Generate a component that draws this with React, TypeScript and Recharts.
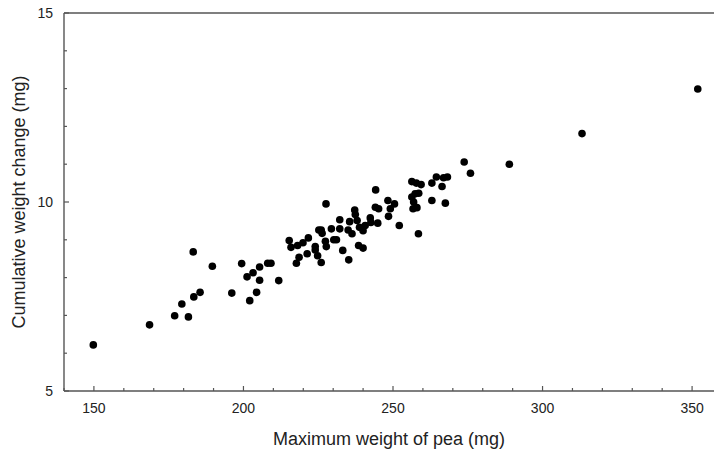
import React from 'react';
import { ScatterChart, Scatter, XAxis, YAxis, Label } from 'recharts';

// Maximum weight of pea (mg)
const peaWeight = [
  149.8, 168.6, 177.0, 179.4, 181.6, 183.4, 185.5, 183.2, 189.6, 196.1,
  199.4, 201.2, 202.1, 203.2, 204.4, 205.4, 205.4, 208.1, 209.2, 211.8,
  215.3, 215.9, 218.1, 219.9, 221.7, 218.6, 217.7, 221.3, 224.0, 224.0,
  224.8, 226.0, 225.2, 226.0, 226.3, 227.4, 227.7, 227.6, 229.4, 230.2,
  231.1, 232.2, 232.2, 233.2, 235.2, 235.0, 235.5, 236.3, 237.2, 237.4,
  238.0, 238.8, 238.5, 240.0, 240.0, 240.7, 242.4, 242.6, 244.9, 244.2,
  244.1, 245.2, 248.3, 249.1, 250.5, 248.5, 252.1, 256.3, 257.8, 259.4,
  256.3, 257.4, 258.6, 256.9, 256.7, 258.0, 258.5, 263.0, 263.0, 264.5,
  266.4, 266.9, 268.2, 267.5, 273.8, 275.9, 288.9, 313.2, 351.9,
];

// Cumulative weight change (mg)
const weightChange = [
  6.22, 6.75, 6.99, 7.30, 6.96, 7.49, 7.61, 8.68, 8.30, 7.59,
  8.37, 8.02, 7.39, 8.13, 7.61, 8.28, 7.93, 8.38, 8.38, 7.92,
  8.98, 8.80, 8.85, 8.92, 9.05, 8.54, 8.38, 8.63, 8.82, 8.73,
  8.58, 8.40, 9.26, 9.26, 9.17, 8.96, 8.82, 9.95, 9.29, 9.00,
  9.00, 9.53, 9.29, 8.72, 8.47, 9.26, 9.48, 9.16, 9.79, 9.67,
  9.51, 9.33, 8.85, 8.78, 9.24, 9.38, 9.58, 9.46, 9.44, 10.32,
  9.86, 9.82, 10.04, 9.82, 9.95, 9.62, 9.38, 10.54, 10.50, 10.46,
  10.13, 10.22, 10.23, 10.00, 9.82, 9.85, 9.16, 10.04, 10.50, 10.66,
  10.41, 10.64, 10.66, 9.97, 11.06, 10.76, 11.00, 11.81, 12.99,
];

const xTicks = [140, 150, 160, 170, 180, 190, 200, 210, 220, 230, 240, 250, 260, 270, 280, 290, 300, 310, 320, 330, 340, 350, 360];
const xLabelTicks = [150, 200, 250, 300, 350];
const yTicks = [5, 6, 7, 8, 9, 10, 11, 12, 13, 14, 15];
const yLabelTicks = [5, 10, 15];

const data = peaWeight.map((x, i) => ({ x, y: weightChange[i] }));

const FONT = '"Liberation Sans", Arial, Helvetica, sans-serif';
const AXIS = '#555';

const BottomTick = (props: any) => {
  const { x, y, payload } = props;
  const major = xLabelTicks.includes(payload.value);
  return (
    <g>
      <line x1={x} x2={x} y1={y} y2={y - (major ? 5 : 3)} stroke={AXIS} strokeWidth={1.2} />
      {major && (
        <text x={x} y={y + 22} textAnchor="middle" fontSize={14} fontFamily={FONT} fill="#222">
          {payload.value}
        </text>
      )}
    </g>
  );
};

const TopTick = (props: any) => {
  const { x, y, payload } = props;
  const major = xLabelTicks.includes(payload.value);
  return <line x1={x} x2={x} y1={y} y2={y + (major ? 5 : 3)} stroke={AXIS} strokeWidth={1.2} />;
};

const LeftTick = (props: any) => {
  const { x, y, payload } = props;
  const major = yLabelTicks.includes(payload.value);
  return (
    <g>
      <line x1={x} x2={x + (major ? 5 : 3)} y1={y} y2={y} stroke={AXIS} strokeWidth={1.2} />
      {major && (
        <text x={x - 11} y={y + 5} textAnchor="end" fontSize={14} fontFamily={FONT} fill="#222">
          {payload.value}
        </text>
      )}
    </g>
  );
};

const XTitle = (props: any) => {
  const { viewBox } = props;
  const cx = viewBox.x + viewBox.width / 2;
  return (
    <text x={cx - 4} y={viewBox.y + 54} textAnchor="middle" fontSize={18} fontFamily={FONT} fill="#222">
      Maximum weight of pea (mg)
    </text>
  );
};

const YTitle = (props: any) => {
  const { viewBox } = props;
  const cy = viewBox.y + viewBox.height / 2;
  const tx = viewBox.x + 25;
  return (
    <text x={tx} y={cy} transform={`rotate(-90, ${tx}, ${cy})`} textAnchor="middle" fontSize={18} fontFamily={FONT} fill="#222">
      Cumulative weight change (mg)
    </text>
  );
};

const Dot = (props: any) => <circle cx={props.cx} cy={props.cy} r={3.8} fill="#000" />;

export default function App() {
  return (
    <div style={{ position: 'absolute', left: 0, top: 0, width: 714, height: 452, overflow: 'hidden', background: '#fff' }}>
      <ScatterChart width={722} height={452} margin={{ top: 0, right: 0, bottom: 0, left: 0 }}>
        <XAxis
          dataKey="x"
          type="number"
          domain={[140, 360]}
          ticks={xTicks}
          interval={0}
          height={61}
          tickSize={0}
          tickMargin={0}
          tickLine={false}
          tick={<BottomTick />}
          axisLine={{ stroke: AXIS, strokeWidth: 1.4 }}
        >
          <Label content={<XTitle />} />
        </XAxis>
        <XAxis
          xAxisId="top"
          orientation="top"
          dataKey="x"
          type="number"
          domain={[140, 360]}
          ticks={xTicks}
          interval={0}
          height={13}
          tickSize={0}
          tickMargin={0}
          tickLine={false}
          tick={<TopTick />}
          axisLine={{ stroke: AXIS, strokeWidth: 1.4 }}
        />
        <YAxis
          dataKey="y"
          type="number"
          domain={[5, 15]}
          ticks={yTicks}
          interval={0}
          width={64}
          tickSize={0}
          tickMargin={0}
          tickLine={false}
          tick={<LeftTick />}
          axisLine={{ stroke: AXIS, strokeWidth: 1.4 }}
        >
          <Label content={<YTitle />} />
        </YAxis>
        <Scatter data={data} fill="#000" shape={<Dot />} isAnimationActive={false} />
      </ScatterChart>
    </div>
  );
}
